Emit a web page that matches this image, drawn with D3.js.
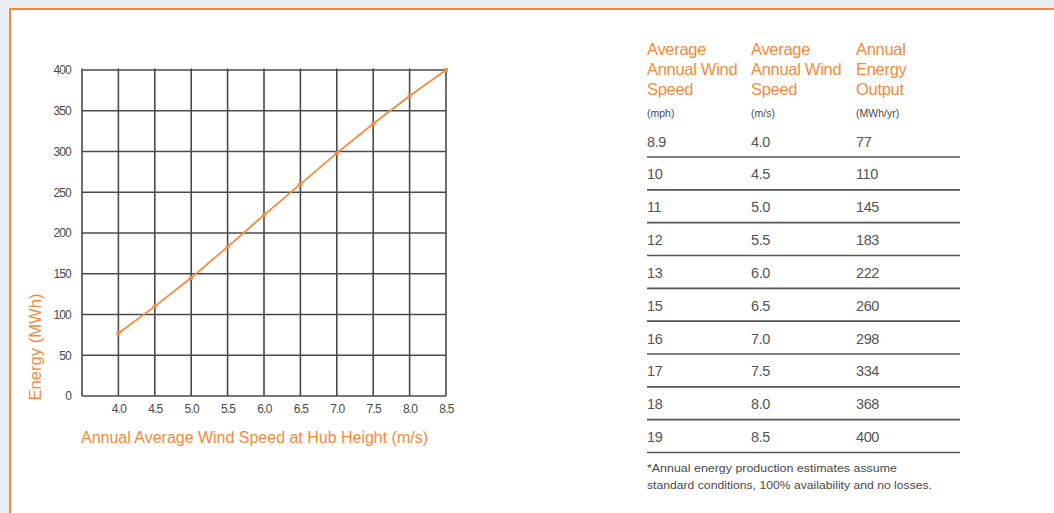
<!DOCTYPE html>
<html>
<head>
<meta charset="utf-8">
<script src="https://cdn.jsdelivr.net/npm/d3@7"></script>
<style>
  html, body { margin: 0; padding: 0; background: #eaedf1; }
  svg { display: block; font-family: "Liberation Sans", Arial, sans-serif; }
</style>
</head>
<body>
<svg id="chart" width="1054" height="513"></svg>
<script>
// chart data
const windSpeeds = [4.0, 4.5, 5.0, 5.5, 6.0, 6.5, 7.0, 7.5, 8.0, 8.5];
const energyOutput = [77, 110, 145, 183, 222, 260, 298, 334, 368, 400];
const yTicks = [0, 50, 100, 150, 200, 250, 300, 350, 400];
const xTicks = [4.0, 4.5, 5.0, 5.5, 6.0, 6.5, 7.0, 7.5, 8.0, 8.5];

// table data
const mphValues = ['8.9', '10', '11', '12', '13', '15', '16', '17', '18', '19'];
const msValues = ['4.0', '4.5', '5.0', '5.5', '6.0', '6.5', '7.0', '7.5', '8.0', '8.5'];
const outputValues = ['77', '110', '145', '183', '222', '260', '298', '334', '368', '400'];
const headers = [
    ['Average', 'Annual Wind', 'Speed'],
    ['Average', 'Annual Wind', 'Speed'],
    ['Annual', 'Energy', 'Output']
];
const units = ['(mph)', '(m/s)', '(MWh/yr)'];
const footnote = ['*Annual energy production estimates assume',
                  'standard conditions, 100% availability and no losses.'];

const orange = '#f58a3d';
const grey = '#4a4a4a';

const svg = d3.select('#chart');

// white panel with orange top/left border
svg.append('rect')
    .attr('x', 10).attr('y', 9)
    .attr('width', 1100).attr('height', 600)
    .attr('fill', '#ffffff')
    .attr('stroke', orange)
    .attr('stroke-width', 2);

// ---- line chart ----
const plot = { left: 82, right: 446, top: 70, bottom: 396 };

const x = d3.scaleLinear().domain([3.5, 8.5]).range([plot.left, plot.right]);
const y = d3.scaleLinear().domain([0, 400]).range([plot.bottom, plot.top]);

const grid = svg.append('g');

// horizontal grid lines
grid.selectAll('line.h')
    .data(yTicks)
    .enter().append('line')
    .attr('class', 'h')
    .attr('x1', plot.left).attr('x2', plot.right)
    .attr('y1', d => y(d)).attr('y2', d => y(d))
    .attr('stroke', grey).attr('stroke-width', 1.6);

// vertical grid lines (left edge + each tick)
grid.selectAll('line.v')
    .data([3.5].concat(xTicks))
    .enter().append('line')
    .attr('class', 'v')
    .attr('x1', d => x(d)).attr('x2', d => x(d))
    .attr('y1', plot.top - 1.5).attr('y2', plot.bottom)
    .attr('stroke', grey).attr('stroke-width', 1.6);

// y axis labels
svg.append('g')
    .attr('transform', `translate(${plot.left - 11}, 0)`)
    .call(d3.axisLeft(y).tickValues(yTicks).tickSize(0).tickPadding(0))
    .call(g => g.select('.domain').remove())
    .selectAll('text')
    .style('font-size', '12px')
    .style('font-family', '"Liberation Sans", Arial, sans-serif')
    .style('letter-spacing', '-0.8px')
    .style('fill', grey);

// x axis labels
svg.append('g')
    .attr('transform', `translate(0, ${plot.bottom + 8})`)
    .call(d3.axisBottom(x).tickValues(xTicks).tickSize(0).tickPadding(0).tickFormat(d3.format('.1f')))
    .call(g => g.select('.domain').remove())
    .selectAll('text')
    .style('font-size', '12px')
    .style('font-family', '"Liberation Sans", Arial, sans-serif')
    .style('letter-spacing', '-0.8px')
    .style('fill', grey);

// axis titles
svg.append('text')
    .attr('x', plot.left - 1).attr('y', 443)
    .attr('textLength', 347)
    .attr('lengthAdjust', 'spacingAndGlyphs')
    .style('font-size', '16px')
    .style('fill', orange)
    .text('Annual Average Wind Speed at Hub Height (m/s)');

svg.append('text')
    .attr('transform', 'translate(41, 347) rotate(-90)')
    .attr('text-anchor', 'middle')
    .attr('textLength', 107)
    .attr('lengthAdjust', 'spacingAndGlyphs')
    .style('font-size', '16px')
    .style('fill', orange)
    .text('Energy (MWh)');

// data line
const line = d3.line()
    .x((d, i) => x(windSpeeds[i]))
    .y(d => y(d));

svg.append('path')
    .datum(energyOutput)
    .attr('fill', 'none')
    .attr('stroke', orange)
    .attr('stroke-width', 1.8)
    .attr('d', line);

svg.selectAll('circle.pt')
    .data(energyOutput)
    .enter().append('circle')
    .attr('class', 'pt')
    .attr('cx', (d, i) => x(windSpeeds[i]))
    .attr('cy', d => y(d))
    .attr('r', 2.2)
    .attr('fill', orange);

// ---- table ----
const colX = [647, 751, 856];
const table = svg.append('g');

headers.forEach((lines, c) => {
    lines.forEach((t, k) => {
        table.append('text')
            .attr('x', colX[c]).attr('y', 55 + k * 20)
            .style('font-size', '16.5px')
            .style('letter-spacing', '-0.3px')
            .style('fill', orange)
            .text(t);
    });
    table.append('text')
        .attr('x', colX[c]).attr('y', 117)
        .style('font-size', '10.5px')
        .style('fill', grey)
        .text(units[c]);
});

const rowY = d3.scaleLinear().domain([0, 9]).range([157, 452.5]);
const rows = table.selectAll('g.row')
    .data(mphValues)
    .enter().append('g')
    .attr('class', 'row');

rows.append('line')
    .attr('x1', 647).attr('x2', 960)
    .attr('y1', (d, i) => rowY(i)).attr('y2', (d, i) => rowY(i))
    .attr('stroke', '#555').attr('stroke-width', 1.6);

[mphValues, msValues, outputValues].forEach((vals, c) => {
    rows.append('text')
        .attr('x', colX[c])
        .attr('y', (d, i) => rowY(i) - 10.5)
        .style('font-size', '14.5px')
        .style('letter-spacing', '-0.4px')
        .style('fill', '#555')
        .text((d, i) => vals[i]);
});

// footnote, stretched to the widths in the reference
const footWidths = [250, 285];
footnote.forEach((t, k) => {
    table.append('text')
        .attr('x', 647).attr('y', 472 + k * 17)
        .attr('textLength', footWidths[k])
        .attr('lengthAdjust', 'spacingAndGlyphs')
        .style('font-size', '11.5px')
        .style('fill', grey)
        .text(t);
});
</script>
</body>
</html>
